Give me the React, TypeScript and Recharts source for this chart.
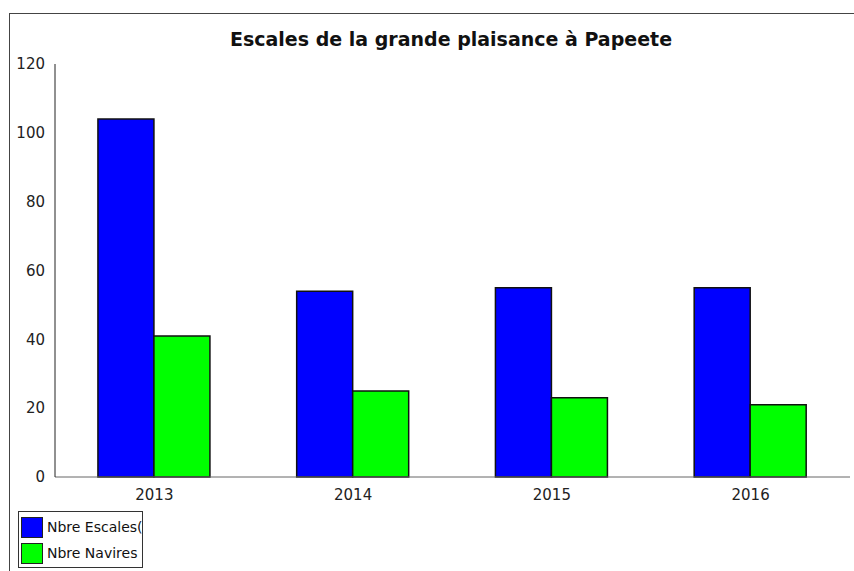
import { BarChart, Bar, XAxis, YAxis, Legend } from 'recharts';

const years = ['2013', '2014', '2015', '2016'];
const escales = [104, 54, 55, 55];
const navires = [41, 25, 23, 21];
const yTicks = [0, 20, 40, 60, 80, 100, 120];

const seriesNames = { escales: 'Nbre Escales(', navires: 'Nbre Navires' };
const seriesColors = { escales: '#0000ff', navires: '#00ff00' };

const data = years.map((year, i) => ({ year, escales: escales[i], navires: navires[i] }));

const FONT = '"DejaVu Sans", sans-serif';

function LegendBox({ payload }: any) {
  return (
    <div
      style={{
        width: 121,
        height: 53,
        border: '1px solid #333',
        padding: '2px 0 0 2px',
        boxSizing: 'content-box',
        overflow: 'hidden',
        background: '#fff',
      }}
    >
      {(payload || []).map((item: any) => (
        <div key={item.value} style={{ display: 'flex', alignItems: 'center', height: 26, whiteSpace: 'nowrap' }}>
          <div
            style={{
              width: 20,
              height: 19,
              background: item.color,
              border: '1px solid #222',
              marginRight: 4,
              flexShrink: 0,
            }}
          />
          <span style={{ fontFamily: FONT, fontSize: 14, color: '#111' }}>{item.value}</span>
        </div>
      ))}
    </div>
  );
}

export default function App() {
  return (
    <div
      style={{
        position: 'absolute',
        left: 9,
        top: 13,
        width: 844,
        height: 557,
        borderTop: '1px solid #444',
        borderLeft: '1px solid #444',
        background: '#fff',
      }}
    >
      <div
        style={{
          position: 'absolute',
          left: 441,
          top: 14,
          transform: 'translateX(-50%)',
          fontFamily: FONT,
          fontWeight: 'bold',
          fontSize: 19,
          color: '#111',
          whiteSpace: 'nowrap',
        }}
      >
        Escales de la grande plaisance à Papeete
      </div>
      <BarChart
        width={844}
        height={557}
        data={data}
        margin={{ top: 50, right: 4, left: 0, bottom: 7 }}
        barCategoryGap="21.6%"
        barGap={0}
      >
        <XAxis
          dataKey="year"
          height={30}
          tickLine={false}
          tickSize={0}
          tickMargin={12}
          stroke="#666"
          tick={{ fontFamily: FONT, fontSize: 15, fill: '#222' }}
        />
        <YAxis
          width={45}
          domain={[0, 120]}
          ticks={yTicks}
          tickLine={false}
          tickSize={0}
          tickMargin={10}
          stroke="#222"
          tick={{ fontFamily: FONT, fontSize: 15, fill: '#222' }}
        />
        <Legend
          verticalAlign="bottom"
          align="left"
          layout="horizontal"
          content={<LegendBox />}
          wrapperStyle={{ left: 8, bottom: 3, width: 'auto' }}
        />
        <Bar
          dataKey="escales"
          name={seriesNames.escales}
          fill={seriesColors.escales}
          stroke="#111"
          strokeWidth={1.5}
          isAnimationActive={false}
        />
        <Bar
          dataKey="navires"
          name={seriesNames.navires}
          fill={seriesColors.navires}
          stroke="#111"
          strokeWidth={1.5}
          isAnimationActive={false}
        />
      </BarChart>
    </div>
  );
}
